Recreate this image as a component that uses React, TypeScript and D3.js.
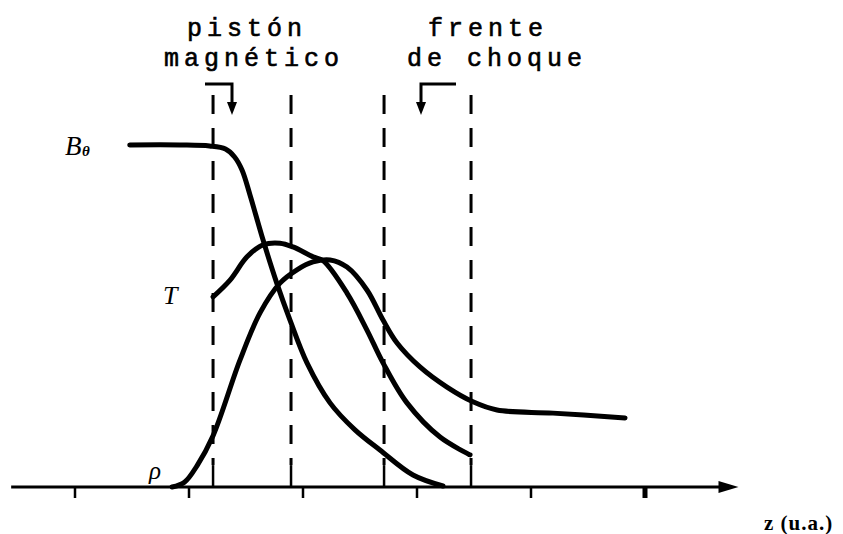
import React from 'react';
import * as d3 from 'd3';

// values: [z, level], z in axis ticks, level 0..10 (B plateau = 10)
const bField: [number, number][] = [
  [1.48, 10.0], [1.92, 10.0], [2.18, 9.97], [2.32, 9.88], [2.4, 9.65], [2.465, 9.27],
  [2.535, 8.54], [2.65, 7.22], [2.77, 5.96], [2.886, 4.88], [3.035, 3.63], [3.237, 2.46],
  [3.456, 1.67], [3.675, 1.08], [3.965, 0.35], [4.228, 0.03],
];
const temperature: [number, number][] = [
  [2.211, 5.56], [2.36, 6.05], [2.509, 6.73], [2.649, 7.08], [2.798, 7.13], [2.912, 7.02],
  [3.088, 6.73], [3.175, 6.62], [3.386, 5.67], [3.561, 4.59], [3.702, 3.63], [3.912, 2.46],
  [4.202, 1.46], [4.465, 0.94],
];
const density: [number, number][] = [
  [1.851, 0], [1.96, 0.14], [2.07, 0.62], [2.211, 1.5], [2.447, 3.71], [2.623, 5.09],
  [2.798, 5.96], [2.947, 6.35], [3.088, 6.58], [3.237, 6.64], [3.386, 6.43], [3.561, 5.76],
  [3.702, 4.88], [3.825, 4.21], [4.026, 3.51], [4.263, 2.92], [4.491, 2.49], [4.702, 2.25],
  [5.193, 2.16], [5.825, 2.02],
];
const dividers = [2.211, 2.895, 3.711, 4.474];
const ticksBelow = [1, 2, 3, 4, 5, 6];
const axisRange = [0.44, 6.82];
const dividerTop = 11.46;
const dividerFoot = 0.64;

const W = 843, H = 534;

export default function App() {
  const x = d3.scaleLinear().domain([1, 6]).range([75, 645]);
  const y = d3.scaleLinear().domain([0, 10]).range([487, 145]);

  const line = d3.line<[number, number]>()
    .x(d => x(d[0]))
    .y(d => y(d[1]))
    .curve(d3.curveCatmullRom.alpha(0.5));

  const axisEnd = x(axisRange[1]);
  const mono = {
    fontFamily: '"Liberation Mono", monospace', fontSize: 25, letterSpacing: 5,
    fill: '#000', stroke: '#000', strokeWidth: 0.6,
  };
  const serif = '"Liberation Serif", serif';

  return (
    <svg width={W} height={H} style={{ position: 'absolute', left: 0, top: 0, background: '#fff' }}>
      {/* axis */}
      <line x1={x(axisRange[0])} x2={axisEnd - 14} y1={y(0)} y2={y(0)} stroke="#000" strokeWidth={3} />
      <path d={`M${axisEnd},${y(0)} L${axisEnd - 20},${y(0) - 6} L${axisEnd - 20},${y(0) + 6} Z`} fill="#000" />
      {ticksBelow.map(t => (
        <line key={t} x1={x(t)} x2={x(t)} y1={y(0)} y2={y(0) + 11} stroke="#000"
          strokeWidth={t === 6 ? 5 : 2.5} />
      ))}

      {/* dashed dividers */}
      {dividers.map(d => (
        <g key={d}>
          <line x1={x(d)} x2={x(d)} y1={y(dividerTop)} y2={y(dividerFoot)} stroke="#000"
            strokeWidth={3} strokeDasharray="19 14" />
          <line x1={x(d)} x2={x(d)} y1={y(dividerFoot)} y2={y(0)} stroke="#000" strokeWidth={2.5} />
        </g>
      ))}

      {/* curves */}
      {[bField, temperature, density].map((s, i) => (
        <path key={i} d={line(s) || ''} fill="none" stroke="#000" strokeWidth={5} strokeLinecap="round" />
      ))}

      {/* labels */}
      <text x={65} y={155} fontFamily={serif} fontStyle="italic" fontSize={27}>B</text>
      <text x={82} y={156} fontFamily={serif} fontStyle="italic" fontWeight="bold" fontSize={15}>θ</text>
      <text x={163} y={304} fontFamily={serif} fontStyle="italic" fontSize={26}>T</text>
      <text x={149} y={479} fontFamily={serif} fontStyle="italic" fontSize={25}>ρ</text>

      <text x={187} y={36} {...mono}>pistón</text>
      <text x={164} y={66} {...mono}>magnético</text>
      <text x={428} y={36} {...mono}>frente</text>
      <text x={407} y={66} {...mono}>de choque</text>

      {/* pointers */}
      <path d="M205,84 L232,84 L232,104" fill="none" stroke="#000" strokeWidth={3} />
      <path d="M227,102 L237,102 L232,115 Z" fill="#000" />
      <path d="M456,84 L421,84 L421,104" fill="none" stroke="#000" strokeWidth={3} />
      <path d="M416,102 L426,102 L421,115 Z" fill="#000" />

      <text x={764} y={530} fontFamily={serif} fontWeight="bold" fontSize={21} letterSpacing={1}>z (u.a.)</text>
    </svg>
  );
}
